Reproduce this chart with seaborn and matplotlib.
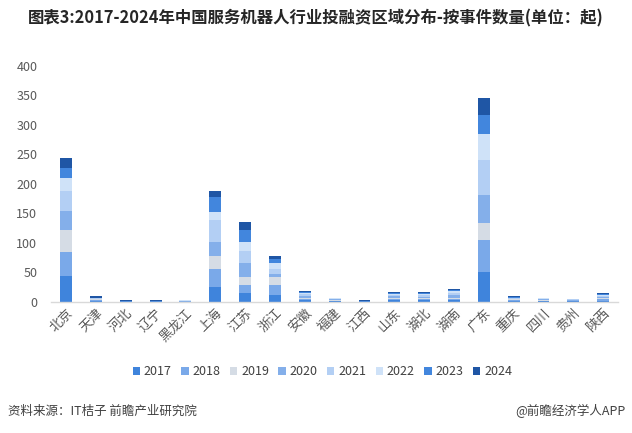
import numpy as np
import pandas as pd
import matplotlib
matplotlib.use("Agg")
import matplotlib.pyplot as plt
from matplotlib.patches import Patch
import seaborn as sns

regions = ["北京", "天津", "河北", "辽宁", "黑龙江", "上海", "江苏", "浙江", "安徽", "福建",
           "江西", "山东", "湖北", "湖南", "广东", "重庆", "四川", "贵州", "陕西"]
years = ["2017", "2018", "2019", "2020", "2021", "2022", "2023", "2024"]

v2017 = [44, 1, 1, 1, 0, 25, 15, 12, 3, 1, 1, 3, 3, 3, 50, 2, 1, 1, 2]
v2018 = [41, 2, 0, 0, 1, 31, 13, 16, 2, 1, 0, 2, 2, 2, 55, 1, 1, 1, 2]
v2019 = [37, 1, 0, 0, 0, 22, 14, 14, 2, 1, 0, 2, 1, 2, 29, 1, 1, 0, 2]
v2020 = [32, 1, 1, 0, 1, 23, 24, 5, 3, 1, 1, 3, 2, 4, 47, 1, 1, 1, 2]
v2021 = [34, 1, 0, 1, 0, 38, 20, 9, 3, 1, 0, 2, 3, 4, 60, 1, 1, 1, 2]
v2022 = [22, 0, 0, 0, 1, 13, 15, 10, 2, 1, 0, 2, 2, 4, 44, 1, 1, 1, 2]
v2023 = [16, 1, 0, 0, 0, 26, 21, 7, 2, 0, 0, 1, 2, 1, 32, 1, 0, 0, 1]
v2024 = [18, 2, 1, 1, 0, 10, 13, 5, 1, 1, 1, 1, 1, 1, 29, 2, 0, 0, 2]
series = [v2017, v2018, v2019, v2020, v2021, v2022, v2023, v2024]

colors = ["#3F84DC", "#7AA9E9", "#D5DCE5", "#84AFEA", "#B3CFF4", "#CFE2F8", "#4286DD", "#1F56A5"]

sns.set_style("white")
plt.rcParams["font.family"] = ["Noto Sans CJK SC", "DejaVu Sans"]

fig = plt.figure(figsize=(6.32, 4.33), dpi=100)
ax = fig.add_axes([0.081, 0.303, 0.897, 0.545])

cum = np.cumsum(np.array(series), axis=0)
for i in range(len(years) - 1, -1, -1):
    df = pd.DataFrame({"region": regions, "value": cum[i]})
    sns.barplot(data=df, x="region", y="value", order=regions, color=colors[i],
                saturation=1, width=0.4, ax=ax, edgecolor="none", linewidth=0)

ax.set_ylim(0, 400)
ax.set_xlim(-0.5, len(regions) - 0.5)
ax.set_yticks(range(0, 401, 50))
ax.set_xlabel("")
ax.set_ylabel("")
for s in ["top", "right", "left"]:
    ax.spines[s].set_visible(False)
ax.spines["bottom"].set_color("#D9D9D9")
ax.spines["bottom"].set_linewidth(1)
ax.tick_params(axis="both", length=0, colors="#595959", labelsize=9)
ax.tick_params(axis="y", pad=10)
for lab in ax.get_xticklabels():
    lab.set_rotation(45)
    lab.set_ha("right")
    lab.set_rotation_mode("anchor")
    lab.set_fontsize(9.5)

handles = [Patch(facecolor=c, edgecolor="none", label=y) for c, y in zip(colors, years)]
fig.legend(handles=handles, loc="center", bbox_to_anchor=(0.51, 0.141), ncol=8,
           frameon=False, fontsize=9, handlelength=0.6, handleheight=0.6,
           handletextpad=0.3, columnspacing=0.75, labelcolor="#404040")

fig.text(0.5, 0.958, "图表3:2017-2024年中国服务机器人行业投融资区域分布-按事件数量(单位：起)",
         ha="center", va="center", fontsize=11.8, fontweight="bold", color="#262626")
fig.text(0.012, 0.05, "资料来源：IT桔子 前瞻产业研究院", ha="left", va="center",
         fontsize=9, color="#404040")
fig.text(0.99, 0.05, "@前瞻经济学人APP", ha="right", va="center",
         fontsize=9, color="#404040")

fig.savefig("out.png", dpi=100)
